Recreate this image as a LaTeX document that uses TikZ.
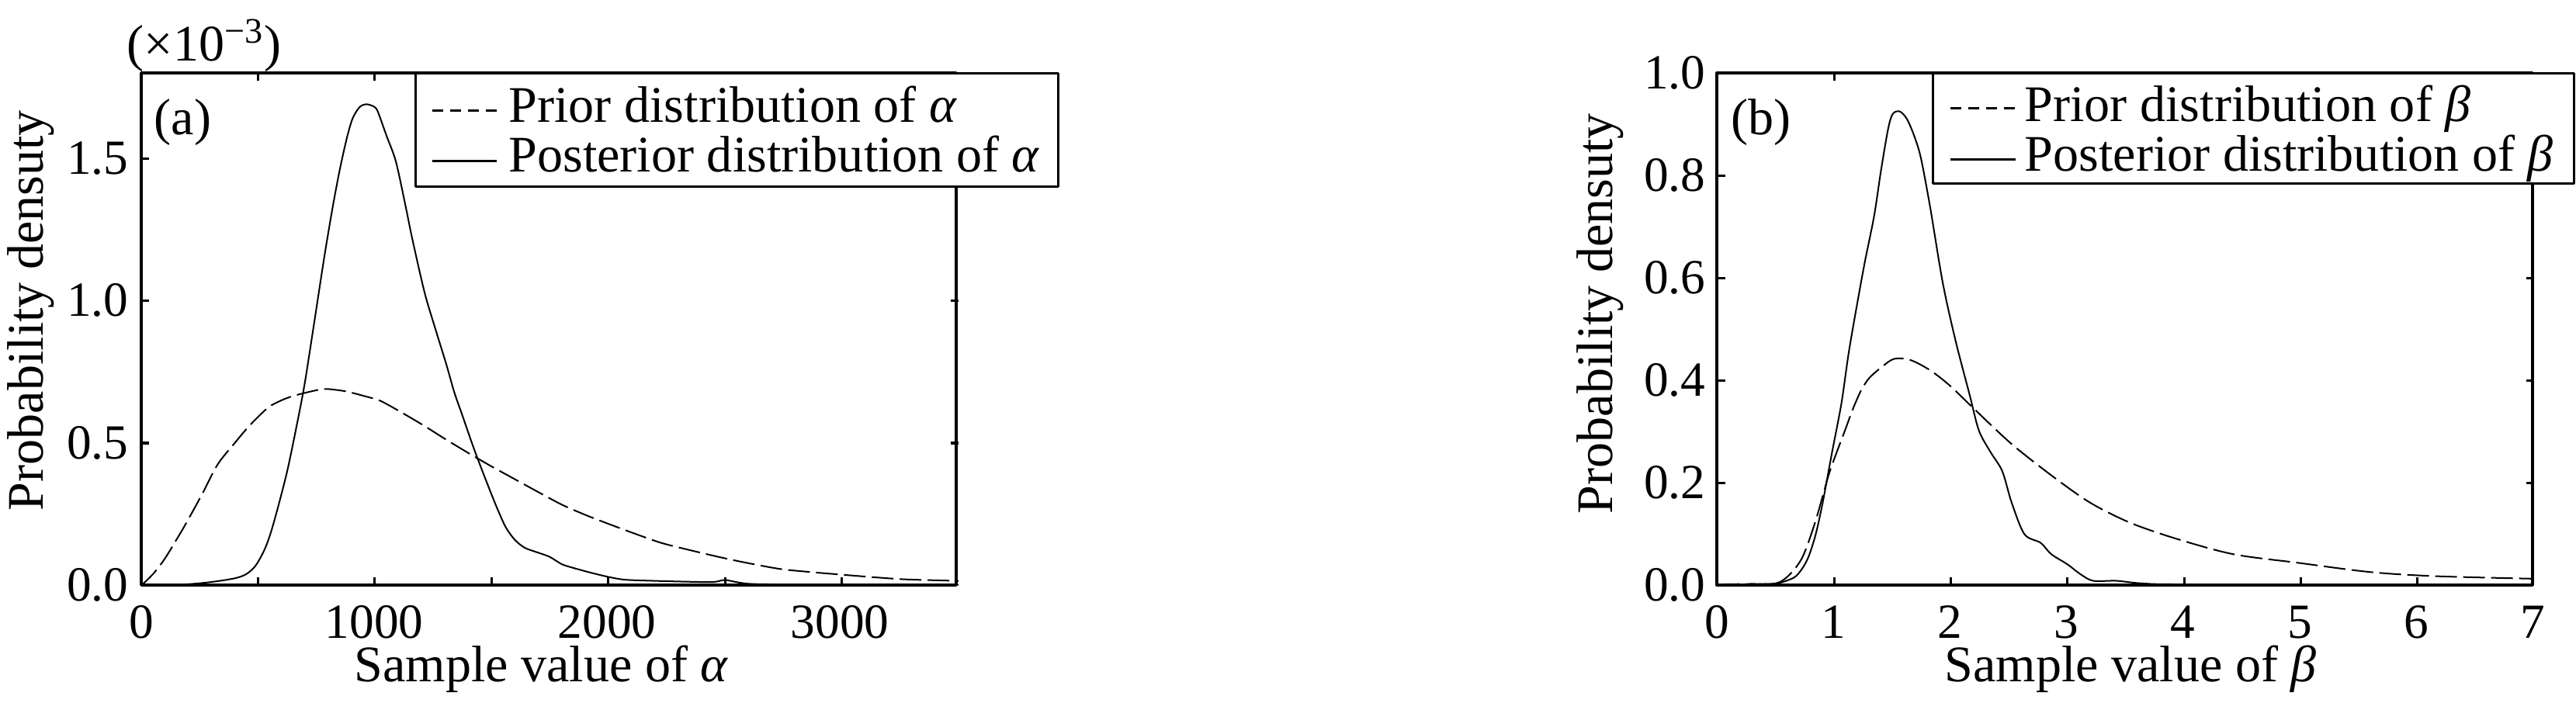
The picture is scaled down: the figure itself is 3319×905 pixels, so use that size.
\documentclass[tikz,border=0pt]{standalone}
\usepackage{fontspec}
\setmainfont{Liberation Serif}
\begin{document}
\begin{tikzpicture}[x=0.01cm, y=-0.01cm, line join=round,
  frame/.style={line width=0.035cm},
  ticksty/.style={line width=0.03cm},
  curve/.style={line width=0.02cm},
  prior/.style={curve, dash pattern=on 0.28cm off 0.08cm},
  lbl/.style={font=\fontsize{18.8pt}{22pt}\selectfont, inner sep=0pt},
  ticklbl/.style={font=\fontsize{18pt}{21pt}\selectfont, inner sep=0pt},
  legbox/.style={draw, fill=white, line width=0.03cm},
  legline/.style={line width=0.03cm}]
\useasboundingbox (0,0) rectangle (3319,905);

% ================= plot (a) =================
\begin{scope}[xshift=1.82cm, yshift=-7.54cm, x=0.003cm, y=3.667cm]
  \foreach \t in {500,1000,...,3000} {
    \draw[ticksty] (\t,0) -- ++(0pt,0.1cm);
    \draw[ticksty] (\t,1.8) -- ++(0pt,-0.1cm);
  }
  \foreach \v in {0.5,1.0,1.5} {
    \draw[ticksty] (0,\v) -- ++(0.1cm,0pt);
    \draw[ticksty] (3500,\v) -- ++(-0.1cm,0pt);
  }
  \draw[prior] plot[smooth, tension=0.5] coordinates {
    (0,0) (50,0.04) (99,0.092) (150,0.16) (193,0.22) (260,0.32) (327,0.425)
    (400,0.5) (462,0.56) (542,0.624) (600,0.65) (649,0.665) (720,0.68)
    (784,0.69) (850,0.685) (891,0.679) (960,0.664) (1025,0.648) (1120,0.605)
    (1213,0.56) (1300,0.515) (1401,0.465) (1500,0.418) (1589,0.378)
    (1700,0.328) (1803,0.283) (1910,0.245) (2018,0.211) (2120,0.18)
    (2233,0.148) (2370,0.12) (2501,0.095) (2620,0.075) (2743,0.057)
    (2880,0.046) (3011,0.037) (3150,0.028) (3280,0.021) (3500,0.016)};
  \draw[curve] plot[smooth, tension=0.5] coordinates {
    (0,0) (190,0.004) (300,0.012) (400,0.025) (450,0.04) (490,0.07)
    (530,0.13) (560,0.2) (600,0.32) (630,0.42) (670,0.58) (700,0.71)
    (740,0.92) (785,1.16) (820,1.33) (850,1.46) (880,1.57) (905,1.64)
    (935,1.68) (965,1.69) (1000,1.68) (1015,1.66) (1050,1.58) (1090,1.49)
    (1130,1.34) (1160,1.22) (1213,1.03) (1260,0.9) (1307,0.775) (1340,0.68)
    (1374,0.6) (1428,0.473) (1495,0.33) (1530,0.26) (1562,0.203) (1600,0.16)
    (1643,0.132) (1700,0.115) (1750,0.1) (1800,0.075) (1844,0.063)
    (1924,0.045) (2000,0.03) (2072,0.02) (2200,0.016) (2340,0.013)
    (2450,0.012) (2500,0.019) (2560,0.01) (2620,0.005) (2800,0.003)
    (3000,0.002) (3500,0.002)};
\end{scope}
\draw[frame] (182,94) rectangle (1232,754);

\foreach \t/\p in {0/182,1000/482,2000/782,3000/1082}
  \node[ticklbl, anchor=base] (xa\t) at (\p,822) {\t};
\foreach \v/\p/\n in {0.0/754/0,0.5/571/1,1.0/387/2,1.5/204/3}
  \node[ticklbl, anchor=east] (ya\n) at (166,\p) {\v};
\node[lbl, rotate=90] (ylabA) at (40,400) {Probability densuty};
\node[lbl, anchor=base] (xlabA) at (697,878) {Sample value of {\itshape α}};
\node[lbl, anchor=base west] (mult) at (163,78) {(×10\textsuperscript{−3})};
\node[lbl, anchor=base west] (pa) at (198,173) {(a)};

\draw[legbox] (535,94) rectangle (1363,240);
\draw[legline, dash pattern=on 0.14cm off 0.09cm] (557,142) -- (640,142);
\draw[legline] (557,207) -- (640,207);
\node[lbl, anchor=base west] (lgA1) at (655,157) {Prior distribution of {\itshape α}};
\node[lbl, anchor=base west] (lgA2) at (655,221) {Posterior distribution of {\itshape α}};

% ================= plot (b) =================
\begin{scope}[xshift=22.12cm, yshift=-7.54cm, x=1.501cm, y=6.6cm]
  \foreach \t in {1,...,6} {
    \draw[ticksty] (\t,0) -- ++(0pt,0.1cm);
    \draw[ticksty] (\t,1) -- ++(0pt,-0.1cm);
  }
  \foreach \v in {0.2,0.4,0.6,0.8} {
    \draw[ticksty] (0,\v) -- ++(0.1cm,0pt);
    \draw[ticksty] (7,\v) -- ++(-0.1cm,0pt);
  }
  \draw[prior] plot[smooth, tension=0.5] coordinates {
    (0,0.002) (0.28,0.003) (0.5,0.004) (0.62,0.022) (0.73,0.057) (0.84,0.127)
    (0.95,0.215) (1.02,0.26) (1.09,0.302) (1.16,0.345) (1.23,0.381) (1.3,0.405)
    (1.4,0.425) (1.51,0.442) (1.65,0.44) (1.82,0.42) (1.99,0.39) (2.21,0.342)
    (2.52,0.276) (2.86,0.215) (3.19,0.162) (3.53,0.123) (3.92,0.092)
    (4.42,0.061) (4.98,0.044) (5.6,0.026) (6.16,0.018) (7,0.013)};
  \draw[curve] plot[smooth, tension=0.5] coordinates {
    (0,0.002) (0.3,0.002) (0.5,0.004) (0.6,0.01) (0.67,0.018) (0.73,0.035)
    (0.78,0.057) (0.84,0.1) (0.9,0.162) (0.98,0.26) (1.06,0.355) (1.12,0.45)
    (1.18,0.53) (1.26,0.63) (1.34,0.72) (1.4,0.81) (1.46,0.89) (1.5,0.92)
    (1.56,0.925) (1.62,0.911) (1.68,0.88) (1.74,0.836) (1.82,0.74) (1.93,0.59)
    (2.04,0.477) (2.16,0.372) (2.24,0.302) (2.34,0.26) (2.44,0.223)
    (2.52,0.162) (2.63,0.1) (2.77,0.083) (2.86,0.061) (3.0,0.041)
    (3.11,0.022) (3.22,0.009) (3.42,0.009) (3.64,0.004) (4.09,0.002) (7,0.001)};
\end{scope}
\draw[frame] (2212,94) rectangle (3263,754);

\foreach \t/\p in {0/2212,1/2362,2/2512,3/2662,4/2812,5/2963,6/3113,7/3263}
  \node[ticklbl, anchor=base] (xb\t) at (\p,822) {\t};
\foreach \v/\p/\n in {0.0/754/0,0.2/622/1,0.4/490/2,0.6/358/3,0.8/226/4,1.0/94/5}
  \node[ticklbl, anchor=east] (yb\n) at (2198,\p) {\v};
\node[lbl, rotate=90] (ylabB) at (2062,404) {Probability densuty};
\node[lbl, anchor=base] (xlabB) at (2745,878) {Sample value of {\itshape β}};
\node[lbl, anchor=base west] (pb) at (2230,173) {(b)};

\draw[legbox] (2490,94) rectangle (3316,236);
\draw[legline, dash pattern=on 0.14cm off 0.09cm] (2513,139) -- (2597,139);
\draw[legline] (2513,205) -- (2597,205);
\node[lbl, anchor=base west] (lgB1) at (2608,156) {Prior distribution of {\itshape β}};
\node[lbl, anchor=base west] (lgB2) at (2608,220) {Posterior distribution of {\itshape β}};
\end{tikzpicture}
\end{document}
